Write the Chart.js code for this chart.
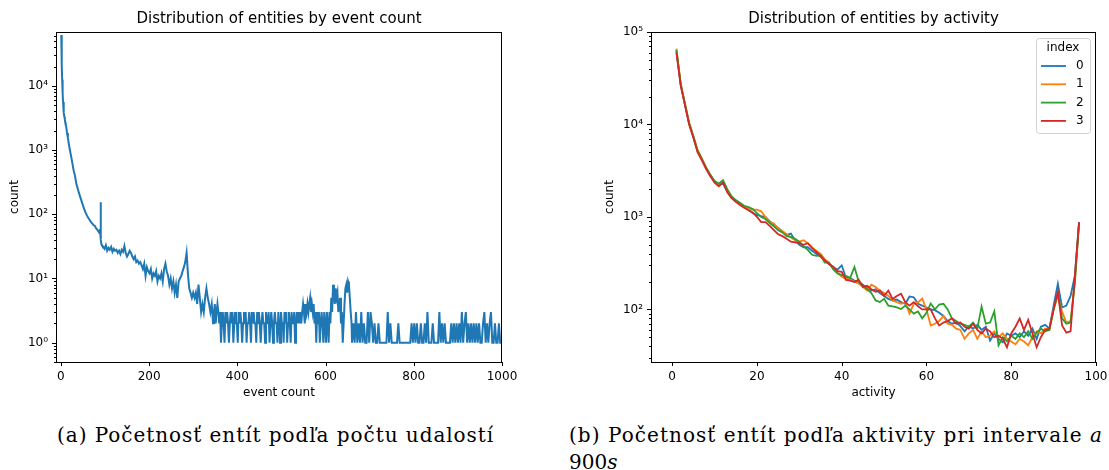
<!DOCTYPE html>
<html>
<head>
<meta charset="utf-8">
<script src="https://cdn.jsdelivr.net/npm/chart.js@4.4.1/dist/chart.umd.min.js"></script>
<style>
  html, body { margin: 0; padding: 0; background: #fff; width: 1109px; height: 470px; overflow: hidden; }
  .panel { position: absolute; top: 0; }
  .cap { position: absolute; font-family: "DejaVu Serif", "Liberation Serif", serif; font-size: 20px; line-height: 27px; color: #000; white-space: nowrap; }
  .cap span { display: inline-block; }
</style>
</head>
<body>
<canvas id="byEvents" class="panel" width="540" height="400" style="left:0px"></canvas>
<canvas id="byActivity" class="panel" width="554" height="400" style="left:555px"></canvas>
<div class="cap" style="left:57px; top:422px;"><span data-w="437">(a) Početnosť entít podľa počtu udalostí</span></div>
<div class="cap" style="left:569px; top:422px;"><span data-w="534">(b) Početnosť entít podľa aktivity pri intervale <i>a</i></span><br><span>900<i>s</i></span></div>
<script>
// ---- (a) number of entities per event count ----
const eventCount = [
  1,2,3,4,5,6,7,8,9,10,11,12,14,16,18,20,23,26,29,32,35,38,41,44,47,50,53,56,59,62,65,68,71,74,77,80,83,86,88,89,90,91,92,93,
  96,99,102,105,108,111,114,117,120,123,126,129,132,135,138,141,144,147,150,153,156,159,162,165,168,171,174,177,180,183,
  186,189,192,195,198,201,204,207,210,213,216,219,222,225,228,231,234,237,240,243,246,249,252,255,258,261,264,267,270,273,
  276,279,282,285,288,291,294,297,300,303,306,309,312,315,318,321,324,327,330,333,336,339,342,345,
  347,349,351,353,355,357,359,361,363,365,367,369,371,373,375,377,379,381,383,385,
  387,389,391,393,395,397,399,401,403,405,407,409,411,413,415,417,419,421,423,425,
  427,429,431,433,435,437,439,441,443,445,447,449,451,453,455,457,459,461,463,465,
  467,469,471,473,475,477,479,481,483,485,487,489,491,493,495,497,499,501,503,505,
  507,509,511,513,515,517,519,521,523,525,527,529,531,533,535,537,539,541,543,545,
  547,549,551,553,555,557,559,561,563,565,567,569,571,573,575,577,579,581,583,585,
  587,589,591,593,595,597,599,601,603,605,607,609,611,613,615,617,619,621,623,625,
  627,629,631,633,635,637,639,641,643,645,647,649,651,653,655,657,659,
  660,663,666,669,672,675,678,681,684,687,690,693,696,699,702,705,
  708,711,714,717,720,723,726,729,732,735,738,741,744,747,750,753,756,759,762,765,768,771,774,777,780,783,786,789,792,795,
  798,801,804,807,810,813,816,819,822,825,828,831,834,837,840,843,846,849,852,855,858,861,864,867,870,873,876,879,882,885,
  888,891,894,897,900,903,906,909,912,915,918,921,924,927,930,933,936,939,942,945,948,951,954,957,960,963,966,969,972,975,
  978,981,984,987,990,993,996,999
];
const entitiesByEvents = [
  62000,21000,12500,7800,5600,4500,3800,3300,3000,2700,2450,2350,1850,1550,1250,1050,820,630,480,400,300,255,215,185,160,138,120,106,96,88,82,76,72,68,66,60,57,53,56,55,154,40,34,33,
  31,29,33,27,30,28,31,26,29,27,28,25,27,24,28,26,32,25,22,24,27,25,22,20,22,18,19,17,18,16,
  14,17,11,15,13,12,14,10,12,11,13,9,11,10,12,9,14,17,13,11,8,10,7,9,6,8,5,9,10,11,
  13,15,18,25,12,7,6,5,6,5,6,4,8,5,3,4,3,5,7,5,4,3,4,2,
  3,4,2,3,4,3,2,3,1,2,3,2,1,3,2,3,2,1,2,3,
  2,3,1,2,3,2,2,1,3,2,3,2,1,2,3,2,3,1,2,2,
  3,2,1,3,2,3,2,2,1,3,2,3,2,1,2,3,2,2,1,3,
  2,2,3,1,2,3,2,1,2,3,2,2,1,3,2,1,3,2,2,1,
  3,2,3,1,2,3,2,1,3,2,2,3,1,2,3,2,3,2,3,2,
  3,4,3,2,4,3,4,3,4,5,3,4,3,4,2,3,1,3,2,3,
  1,2,3,2,1,3,2,1,3,2,1,3,2,5,3,8,6,4,7,5,
  6,3,4,5,2,3,1,2,4,7,8,6,9,8,5,3,2,
  1,2,1,3,1,2,1,3,1,2,1,1,3,1,3,2,
  1,2,1,1,2,1,1,1,1,1,1,3,1,2,1,1,1,1,1,2,1,1,1,1,1,1,1,1,1,2,
  1,2,1,2,1,1,2,1,1,2,1,3,1,1,1,2,1,1,1,1,3,1,2,1,2,1,1,1,1,2,
  1,2,1,2,1,2,1,3,1,2,3,1,2,1,2,1,2,1,2,1,2,1,1,2,3,1,2,1,2,3,
  1,1,2,1,1,2,1,1
];
const eventTicks = [0, 200, 400, 600, 800, 1000];

// ---- (b) number of entities per activity, one series per index ----
const activity = [
  1,2,3,4,5,6,7,8,9,10,11,12,13,14,15,16,17,18,19,20,21,22,23,24,25,26,27,28,29,30,31,32,
  33,34,35,36,37,38,39,40,41,42,43,44,45,46,47,48,49,50,51,52,53,54,55,56,57,58,59,60,61,62,63,64,
  65,66,67,68,69,70,71,72,73,74,75,76,77,78,79,80,81,82,83,84,85,86,87,88,89,90,91,92,93,94,95,96
];
const index0 = [
  62000,27000,16500,10200,7300,5100,4200,3400,2850,2400,2200,2300,1900,1620,1480,1380,1280,1200,1100,1050,1020,1000,900,820,760,700,640,660,560,500,470,470,
  430,400,370,340,310,285,270,300,220,218,205,200,185,170,160,165,150,140,130,125,128,120,115,138,135,115,110,105,100,98,92,85,
  75,70,72,66,58,66,62,68,60,65,46,55,48,44,55,52,55,50,58,52,62,48,65,68,62,110,190,105,110,140,230,880
];
const index1 = [
  66000,28000,17000,10500,7500,5300,4300,3450,2800,2450,2250,2400,1950,1650,1500,1380,1300,1220,1200,1200,1150,1000,880,850,750,700,650,600,560,540,560,520,
  470,430,400,350,320,280,250,225,215,210,200,190,175,160,185,175,160,150,140,125,120,115,120,90,115,120,131,100,67,70,75,85,
  70,68,62,60,48,55,60,48,58,50,52,58,50,55,48,45,42,48,45,41,50,58,55,62,60,100,140,95,72,75,200,860
];
const index2 = [
  64000,27500,16800,10300,7400,5200,4250,3400,2850,2450,2300,2500,2000,1680,1520,1420,1320,1280,1220,1100,1000,950,860,790,720,680,620,610,580,540,480,440,
  390,380,385,320,320,270,245,235,230,220,288,200,180,165,150,125,120,130,110,108,105,101,110,100,90,95,80,92,116,100,113,115,
  100,80,75,70,68,65,72,62,107,70,72,95,41,50,45,52,48,55,50,58,48,56,62,58,60,100,150,80,70,72,190,860
];
const index3 = [
  60000,26500,16200,10000,7200,5000,4100,3300,2750,2350,2150,2350,1850,1600,1460,1350,1260,1180,1120,1000,880,880,800,720,650,620,580,540,530,520,500,520,
  460,420,380,340,310,290,260,255,208,205,198,210,175,180,165,155,160,140,160,130,140,148,120,110,120,108,100,100,100,80,67,72,
  75,80,70,72,65,62,70,60,55,62,58,50,52,48,39,55,65,80,60,77,55,39,50,60,62,100,155,67,56,58,226,880
];
const activityTicks = [0, 20, 40, 60, 80, 100];
const seriesNames = ['0', '1', '2', '3'];
const seriesColors = ['#1f77b4', '#ff7f0e', '#2ca02c', '#d62728'];

Chart.defaults.font.family = "'DejaVu Sans', sans-serif";
Chart.defaults.font.size = 12;
Chart.defaults.color = '#000';

const SUP = {'-':'\u207b','0':'\u2070','1':'\u00b9','2':'\u00b2','3':'\u00b3','4':'\u2074','5':'\u2075','6':'\u2076','7':'\u2077','8':'\u2078','9':'\u2079'};
function isDecade(v) { const l = Math.log10(v); return Math.abs(l - Math.round(l)) < 1e-9; }
function decadeLabel(v) {
  if (!isDecade(v)) return '';
  return '10' + String(Math.round(Math.log10(v))).split('').map(c => SUP[c]).join('');
}
// major and minor positions of a log axis: k * 10^e for k = 1..9
function logTickValues(min, max) {
  const out = [];
  for (let e = Math.floor(Math.log10(min)); e <= Math.ceil(Math.log10(max)); e++) {
    for (let k = 1; k < 10; k++) {
      const v = parseFloat((k * Math.pow(10, e)).toPrecision(6));
      if (v >= min * 0.9999 && v <= max * 1.0001) out.push(v);
    }
  }
  return out;
}

// outward tick marks plus the axes frame
const axesFrame = {
  id: 'axesFrame',
  afterDraw(chart) {
    const ctx = chart.ctx, a = chart.chartArea;
    const xs = chart.scales.x, ys = chart.scales.y;
    ctx.save();
    ctx.strokeStyle = '#000';
    ctx.lineWidth = 1;
    ctx.beginPath();
    xs.ticks.forEach(t => {
      const p = Math.round(xs.getPixelForValue(t.value)) + 0.5;
      ctx.moveTo(p, a.bottom); ctx.lineTo(p, a.bottom + 4);
    });
    ys.ticks.forEach(t => {
      const p = Math.round(ys.getPixelForValue(t.value)) + 0.5;
      const len = isDecade(t.value) ? 4 : 2;
      ctx.moveTo(a.left, p); ctx.lineTo(a.left - len, p);
    });
    ctx.stroke();
    ctx.strokeRect(Math.round(a.left) + 0.5, Math.round(a.top) + 0.5,
                   Math.round(a.right - a.left) - 1, Math.round(a.bottom - a.top));
    ctx.restore();
  }
};

// boxed legend with a title, in the upper right corner of the plot
const indexLegend = {
  id: 'indexLegend',
  afterDraw(chart) {
    const ctx = chart.ctx, a = chart.chartArea;
    const w = 54, h = 95;
    const x0 = Math.round(a.right) - 6 - w, y0 = Math.round(a.top) + 6;
    ctx.save();
    ctx.beginPath();
    ctx.roundRect(x0 + 0.5, y0 + 0.5, w, h, 3);
    ctx.fillStyle = 'rgba(255,255,255,0.8)';
    ctx.fill();
    ctx.strokeStyle = 'rgba(204,204,204,0.9)';
    ctx.lineWidth = 1;
    ctx.stroke();
    ctx.font = "12px 'DejaVu Sans'";
    ctx.fillStyle = '#000';
    ctx.textAlign = 'center';
    ctx.textBaseline = 'middle';
    ctx.fillText('index', x0 + w / 2, y0 + 10);
    chart.data.datasets.forEach((ds, i) => {
      const y = y0 + 28 + i * 18.3;
      ctx.beginPath();
      ctx.strokeStyle = ds.borderColor;
      ctx.lineWidth = 1.8;
      ctx.moveTo(x0 + 5, y); ctx.lineTo(x0 + 30, y);
      ctx.stroke();
      ctx.textAlign = 'left';
      ctx.fillText(ds.label, x0 + 40, y);
    });
    ctx.restore();
  }
};

function axesOptions(xMin, xMax, xTicks, xTitle, yMin, yMax) {
  return {
    x: {
      type: 'linear', min: xMin, max: xMax,
      afterBuildTicks: s => { s.ticks = xTicks.map(v => ({ value: v })); },
      afterFit: s => { s.height = 38; s.paddingLeft = 0; s.paddingRight = 0; },
      grid: { display: false, drawTicks: false },
      border: { display: false },
      ticks: { padding: 8, autoSkip: false, maxRotation: 0, callback: v => String(v), font: { size: 12 }, color: '#000' },
      title: { display: true, text: xTitle, padding: { top: 0, bottom: 0 }, font: { size: 12 }, color: '#000' }
    },
    y: {
      type: 'logarithmic', min: yMin, max: yMax,
      afterBuildTicks: s => { s.ticks = logTickValues(yMin, yMax).map(v => ({ value: v, major: isDecade(v) })); },
      afterFit: s => { s.width = 56; s.paddingTop = 0; s.paddingBottom = 0; },
      grid: { display: false, drawTicks: false },
      border: { display: false },
      ticks: { padding: 8, autoSkip: false, callback: v => decadeLabel(v), font: { size: 12 }, color: '#000' },
      title: { display: true, text: 'count', padding: { top: 8, bottom: 0 }, font: { size: 12 }, color: '#000' }
    }
  };
}

function titleOptions(text) {
  return {
    display: true, text, fullSize: false, color: '#000',
    font: { size: 15, weight: 'normal' },
    padding: { top: 10, bottom: 4 }
  };
}

new Chart(document.getElementById('byEvents'), {
  type: 'line',
  data: {
    datasets: [{
      label: 'count',
      data: eventCount.map((x, i) => ({ x, y: entitiesByEvents[i] })),
      borderColor: '#1f77b4', borderWidth: 2, pointRadius: 0, tension: 0, fill: false
    }]
  },
  options: {
    responsive: false, animation: false, devicePixelRatio: 1,
    layout: { padding: { left: 0, right: 38, top: 0, bottom: 0 } },
    plugins: { legend: { display: false }, tooltip: { enabled: false }, title: titleOptions('Distribution of entities by event count') },
    scales: axesOptions(-11, 1000, eventTicks, 'event count', 0.5, 69000)
  },
  plugins: [axesFrame]
});

const activitySeries = [index0, index1, index2, index3];
new Chart(document.getElementById('byActivity'), {
  type: 'line',
  data: {
    datasets: activitySeries.map((vals, k) => ({
      label: seriesNames[k],
      data: activity.map((x, i) => ({ x, y: vals[i] })),
      borderColor: seriesColors[k], borderWidth: 1.8, pointRadius: 0, tension: 0, fill: false,
      order: activitySeries.length - 1 - k
    }))
  },
  options: {
    responsive: false, animation: false, devicePixelRatio: 1,
    layout: { padding: { left: 40, right: 13, top: 0, bottom: 0 } },
    plugins: { legend: { display: false }, tooltip: { enabled: false }, title: titleOptions('Distribution of entities by activity') },
    scales: axesOptions(-5, 100, activityTicks, 'activity', 27, 100000)
  },
  plugins: [axesFrame, indexLegend]
});

// caption lines are spread to the width of the typeset captions
document.querySelectorAll('.cap span[data-w]').forEach(el => {
  const target = parseFloat(el.dataset.w);
  const natural = el.getBoundingClientRect().width;
  const n = el.textContent.length;
  el.style.letterSpacing = ((target - natural) / n).toFixed(2) + 'px';
});
</script>
</body>
</html>
